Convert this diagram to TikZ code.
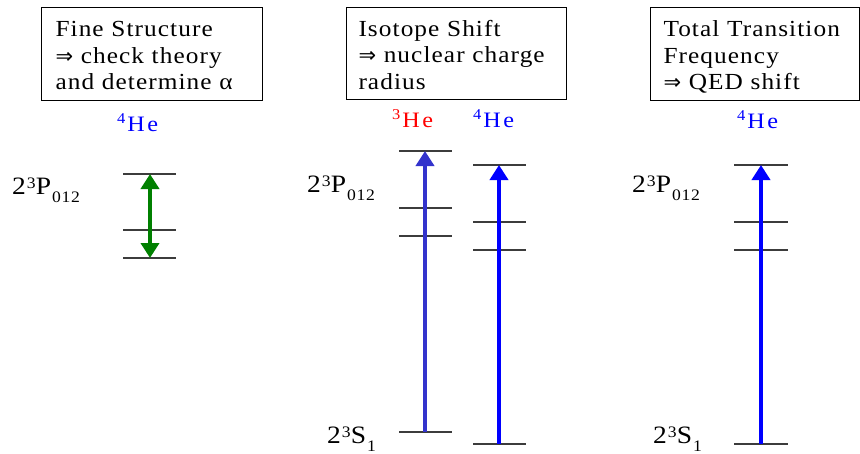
\documentclass[tikz,border=0pt]{standalone}
\usepackage{fontspec}
\setmainfont{Liberation Serif}[LetterSpace=4.7, FakeStretch=1.1]
\newfontfamily\arrowfont{DejaVu Sans}
\usetikzlibrary{arrows.meta}
\definecolor{hblue}{RGB}{0,0,255}
\definecolor{mblue}{RGB}{51,51,204}
\definecolor{hred}{RGB}{255,0,0}
\definecolor{fgreen}{RGB}{0,128,0}
\definecolor{lvl}{RGB}{60,60,60}
\newcommand\imp{{\arrowfont\fontsize{21}{21}\selectfont ⇒}}
\newcommand\topstrut{\rule{0pt}{24pt}}
\newcommand\botstrut{\rule[-6pt]{0pt}{1pt}}
\newcommand\PLab{2\kern1pt\raisebox{6pt}{\fontsize{16}{16}\selectfont 3}P\kern1pt\raisebox{-8pt}{\fontsize{16}{16}\selectfont 012}}
\newcommand\SLab{2\kern1pt\raisebox{6pt}{\fontsize{16}{16}\selectfont 3}S\kern1pt\raisebox{-8pt}{\fontsize{16}{16}\selectfont 1}}
\newcommand\HeLab[1]{\raisebox{8pt}{\fontsize{15}{15}\selectfont #1}\kern2pt H\kern2.5pt e}
\tikzset{
  infobox/.style={draw=black, line width=1pt, anchor=north west, align=left,
    font=\fontsize{23}{26.5}\selectfont, inner ysep=0pt},
  lab/.style={anchor=base west, inner sep=0pt, font=\fontsize{25}{25}\selectfont},
  helab/.style={anchor=base west, inner sep=0pt, font=\fontsize{22}{22}\selectfont},
  level/.style={draw=lvl, line width=1.1pt},
  trans/.style={line width=4pt, -{Triangle[width=18pt,length=15pt]}},
}
\begin{document}
\begin{tikzpicture}[x=1pt,y=-1pt]
\useasboundingbox (0,0) rectangle (860,453);

% boxes
\node[infobox, minimum width=221pt, minimum height=93pt, text width=193pt, inner xsep=14pt] (box1) at (41,7)
  {\mbox{\topstrut Fine Structure}\\\mbox{\imp\ check theory}\\\mbox{and determine α\botstrut}};
\node[infobox, minimum width=220pt, minimum height=92pt, text width=196pt, inner xsep=12pt] (box2) at (346,7)
  {\mbox{\topstrut Isotope Shift}\\\mbox{\imp\ nuclear charge}\\\mbox{radius\botstrut}};
\node[infobox, minimum width=209pt, minimum height=93pt, text width=183pt, inner xsep=13pt] (box3) at (650,7)
  {\mbox{\topstrut Total Transition}\\\mbox{Frequency}\\\mbox{\imp\ QED shift\botstrut}};

% isotope labels
\node[helab, text=hblue] (he1) at (117,131) {\HeLab{4}};
\node[helab, text=hred] (he2) at (392,127) {\HeLab{3}};
\node[helab, text=hblue] (he3) at (473,127) {\HeLab{4}};
\node[helab, text=hblue] (he4) at (737,128) {\HeLab{4}};

% level labels
\node[lab] (p1) at (12,194) {\PLab};
\node[lab] (p2) at (307,192) {\PLab};
\node[lab] (s2) at (327,443) {\SLab};
\node[lab] (p3) at (632,192) {\PLab};
\node[lab] (s3) at (653,443) {\SLab};

% panel 1 levels
\draw[level] (123,174) -- (176,174);
\draw[level] (123,230) -- (176,230);
\draw[level] (123,258) -- (176,258);
\coordinate (g1) at (150,174);
\coordinate (g2) at (150,258);
\draw[line width=4pt, fgreen, {Triangle[width=18pt,length=15pt]}-{Triangle[width=18pt,length=15pt]}] (g1) -- (g2);

% panel 2, 3He
\draw[level] (399,151) -- (452,151);
\draw[level] (399,208) -- (452,208);
\draw[level] (399,236) -- (452,236);
\draw[level] (399,432) -- (452,432);
\coordinate (a1) at (425,432);
\coordinate (a2) at (425,151);
\draw[trans, mblue] (a1) -- (a2);

% panel 2, 4He
\draw[level] (473,165) -- (526,165);
\draw[level] (473,222) -- (526,222);
\draw[level] (473,250) -- (526,250);
\draw[level] (473,444) -- (526,444);
\coordinate (b1) at (499,444);
\coordinate (b2) at (499,165);
\draw[trans, hblue] (b1) -- (b2);

% panel 3
\draw[level] (734,165) -- (788,165);
\draw[level] (734,222) -- (788,222);
\draw[level] (734,250) -- (788,250);
\draw[level] (734,444) -- (788,444);
\coordinate (c1) at (761,444);
\coordinate (c2) at (761,165);
\draw[trans, hblue] (c1) -- (c2);
\end{tikzpicture}
\end{document}
